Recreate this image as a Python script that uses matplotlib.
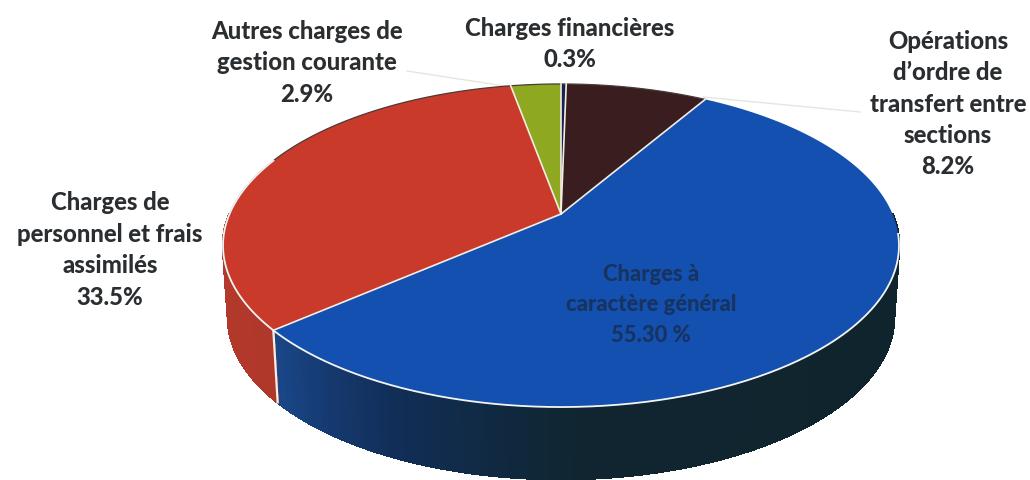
import numpy as np
import matplotlib
matplotlib.use("Agg")
import matplotlib.pyplot as plt
from matplotlib.colors import LinearSegmentedColormap

# Slices, clockwise from the top of the pie
categories = ["Charges financières", "Opérations d'ordre de transfert entre sections",
              "Charges à caractère général", "Charges de personnel et frais assimilés",
              "Autres charges de gestion courante"]
values = [0.3, 8.2, 55.3, 33.5, 2.9]
labels = ["Charges financières\n0.3%",
          "Opérations\nd’ordre de\ntransfert entre\nsections\n8.2%",
          "Charges à\ncaractère général\n55.30 %",
          "Charges de\npersonnel et frais\nassimilés\n33.5%",
          "Autres charges de\ngestion courante\n2.9%"]
top_colors = ["#16224f", "#3a1d1e", "#1450b0", "#c93a2a", "#8fa822"]
side_maps = [None, None,
             [(0, "#1a4688"), (0.12, "#112e58"), (0.26, "#10252f"), (1, "#10232c")],
             [(0, "#b0382a"), (1, "#b83c2c")],
             None]

# Layout
CX, CY, SX, SY, K = 561, 215, 331.5, 155.4, 0.195
DEPTH, SHRINK = 72, 0.985


def project(theta, drop=0.0, shrink=1.0):
    x, y = np.sin(theta), np.cos(theta)
    w = 1 + K * y
    return CX + SX * shrink * x / w, CY + drop - SY * y / w


fig = plt.figure(figsize=(10.3, 4.81), dpi=100)
ax = fig.add_axes([0, 0, 1, 1])
ax.set_xlim(0, 1030)
ax.set_ylim(481, 0)
ax.axis("off")

edges = np.r_[0, np.cumsum(values)] / np.sum(values) * 2 * np.pi

# side walls
for a0, a1, cols in zip(edges[:-1], edges[1:], side_maps):
    if cols is None:
        continue
    cmap = LinearSegmentedColormap.from_list("s", cols)
    steps = np.linspace(a0, a1, 400)
    for i, (t0, t1) in enumerate(zip(steps[:-1], steps[1:])):
        if np.cos((t0 + t1) / 2) > 0.0:
            continue
        x0, y0 = project(t0)
        x1, y1 = project(t1)
        x2, y2 = project(t1, DEPTH, SHRINK)
        x3, y3 = project(t0, DEPTH, SHRINK)
        f = 1 - i / 398 if a1 - a0 > 3 else i / 398
        ax.fill([x0, x1, x2, x3], [y0, y1, y2, y3], color=cmap(f), lw=1.2,
                antialiased=False, zorder=1)

# top faces
for a0, a1, col in zip(edges[:-1], edges[1:], top_colors):
    t = np.linspace(a0, a1, 200)
    x, y = project(t)
    ax.fill(np.r_[CX, x], np.r_[CY, y], color=col, lw=0, zorder=2)

# far rim
t_back = np.linspace(-0.62 * np.pi, 0.17 * np.pi, 300)
x, y = project(t_back)
ax.plot(x, y, color="#4a3a38", lw=0.9, zorder=3)

# white separators
for a in edges[[1, 2, 3, 4, 5]]:
    x, y = project(a)
    ax.plot([CX, x], [CY, y], color="#f3ede4", lw=1.2, zorder=4)
t_front = np.linspace(0.54 * np.pi, 1.62 * np.pi, 300)
x, y = project(t_front)
ax.plot(x, y, color="#f4f4f4", lw=1.3, zorder=4)
x0, y0 = project(edges[3])
x1, y1 = project(edges[3], DEPTH, SHRINK)
ax.plot([x0, x1], [y0, y1], color="#f4f0e8", lw=1.6, zorder=4)

# faint leader lines
ax.plot([407, 511], [72, 88], color="#e6e6de", lw=1, zorder=1)
ax.plot([703, 860], [98, 113], color="#e6e6de", lw=1, zorder=1)

# labels
font = dict(family="Lato", fontweight="black", fontsize=17.2, ha="center", va="center",
            linespacing=1.44, zorder=5, color="#2b2e30")
positions = [(570, 44), (948, 104), (651, 305), (110, 250), (307, 63)]
for s, (px, py), cat in zip(labels, positions, categories):
    kw = dict(font)
    if cat.startswith("Charges à"):
        kw["color"] = "#17335f"
        kw["fontsize"] = 15.8
        kw["linespacing"] = 1.56
    ax.text(px, py, s, **kw)

fig.savefig("out.png", dpi=100, facecolor="white")
